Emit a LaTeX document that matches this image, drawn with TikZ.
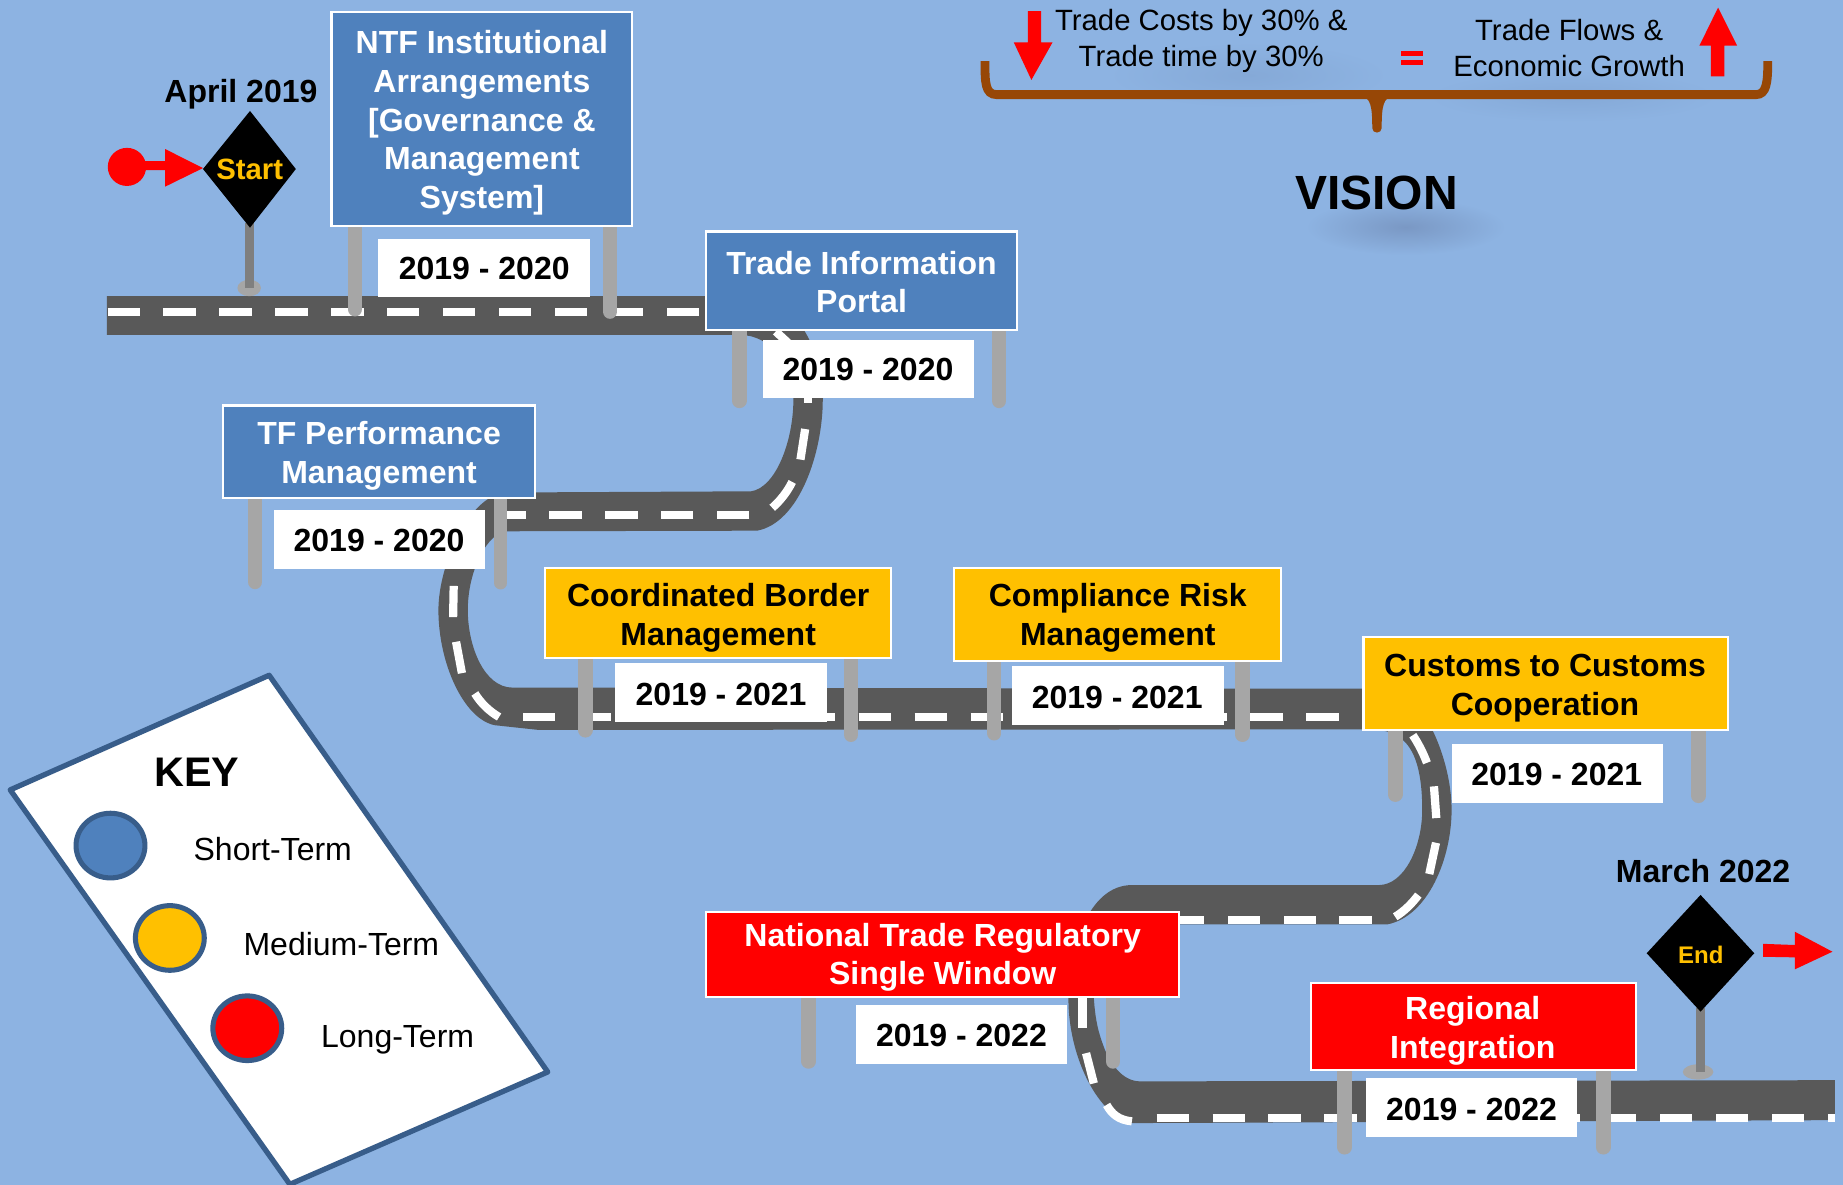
\documentclass[tikz,border=0pt]{standalone}
\usepackage{fontspec}
\setmainfont{Liberation Sans}
\def\uu{0.8816pt}
\definecolor{bgc}{HTML}{8DB3E2}
\definecolor{blueb}{HTML}{4F81BD}
\definecolor{yellowb}{HTML}{FFC000}
\definecolor{roadc}{HTML}{595959}
\definecolor{postc}{HTML}{A6A6A6}
\definecolor{stemc}{HTML}{7F7F7F}
\definecolor{bracec}{HTML}{974706}
\definecolor{keyline}{HTML}{385D8A}
\definecolor{softa}{HTML}{85A9D7}
\definecolor{softb}{HTML}{7A98C4}
\tikzset{
  signbox/.style 2 args={draw=white,line width=1.8*\uu,inner sep=0pt,
     minimum width=#1*\uu,minimum height=#2*\uu},
  bluebox/.style 2 args={signbox={#1}{#2},fill=blueb},
  yellowbox/.style 2 args={signbox={#1}{#2},fill=yellowb},
  redbox/.style 2 args={signbox={#1}{#2},fill=red},
  signtext/.style={inner sep=0pt,align=center,font=\bfseries\fontsize{24}{29}\selectfont},
  datebox/.style={fill=white,inner sep=0pt,minimum width=180*\uu,minimum height=50*\uu},
  datetext/.style={inner sep=0pt,text=black,font=\bfseries\fontsize{24}{29}\selectfont},
  post/.style={draw=postc,line width=12.5*\uu,line cap=round},
  roadmark/.style={draw=white,line width=7*\uu},
  roaddash/.style={roadmark,dash pattern=on 27.4*\uu off 20.2*\uu},
  plaintext/.style={inner sep=0pt,font=\fontsize{22}{27}\selectfont,text=black},
  keytext/.style={inner sep=0pt,anchor=west,font=\fontsize{24}{28}\selectfont,text=black},
  boldtext/.style={inner sep=0pt,font=\bfseries\fontsize{24}{29}\selectfont,text=black},
  keydot/.style={draw=keyline,line width=4.3*\uu},
}
\begin{document}
\begin{tikzpicture}[x=0.8816pt,y=-0.8816pt]
\useasboundingbox (0,0) rectangle (1568,1008);
\fill[bgc] (0,0) rectangle (1568,1008);
% soft shadows
\shade[inner color=softa,outer color=bgc] (1062,64) ellipse [x radius=120,y radius=28];
\shade[inner color=softa,outer color=bgc] (1338,82) ellipse [x radius=125,y radius=22];
\shade[inner color=softb,outer color=bgc] (1196,193) ellipse [x radius=85,y radius=24];
% road surface
\fill[roadc] (91,252) -- (640,252) .. controls (680,256) and (700,300) .. (700,340)
  .. controls (700,385) and (680,445) .. (644,451.5) -- (432,452)
  .. controls (415,452) and (398,485) .. (398,519)
  .. controls (398,550) and (412,585) .. (436,585) -- (1190,586)
  .. controls (1215,600) and (1235,650) .. (1235,689)
  .. controls (1235,730) and (1215,780) .. (1180,786.5) -- (975,786.5)
  -- (930.6,849) .. controls (932,870) and (935,880) .. (940,893)
  .. controls (945,905) and (955,920) .. (970,920) -- (1561,919) -- (1561,953) -- (963,955.5)
  .. controls (935,950) and (909,900) .. (909,850)
  .. controls (909,810) and (925,753) .. (963,753) -- (1173,753)
  .. controls (1195,753) and (1210,720) .. (1210,689)
  .. controls (1210,660) and (1205,640) .. (1194,630)
  .. controls (1185,621) and (1175,620.5) .. (1150,620.5) -- (458,621) -- (421,617)
  .. controls (395,612) and (373,565) .. (373,519)
  .. controls (373,480) and (400,419) .. (432,419) -- (639,418)
  .. controls (660,415) and (675,375) .. (675,340)
  .. controls (675,310) and (655,285) .. (630,285) -- (91,285) -- cycle;
% road markings
\draw[roaddash] (91.5,265.7) -- (600,265.7);
\draw[roadmark] (660,282) -- (674,295);
\draw[roadmark] (687.5,330) -- (687.5,343);
\draw[roadmark] (685,365) -- (681,391);
\draw[roadmark] (674,410) .. controls (670,418) and (664,426) .. (657,432);
\draw[roaddash] (637.6,438) -- (421,438);
\draw[roadmark] (386,498.5) -- (385.5,525);
\draw[roadmark] (388,546) -- (393,572.7);
\draw[roadmark] (404,590) .. controls (409,598) and (416,605) .. (424.6,610);
\draw[roaddash] (445,609.7) -- (1139,609.7);
\draw[roadmark] (1202,625.5) .. controls (1207,633) and (1211,641) .. (1214,649);
\draw[roadmark] (1220,669) -- (1222,696);
\draw[roadmark] (1221.7,717) -- (1216,743.6);
\draw[roadmark] (1206.7,761.5) .. controls (1201,769) and (1195,775) .. (1187,780);
\draw[roaddash] (1167,782.7) -- (1003,782.7);
\draw[roadmark] (921,849) -- (921,874.7);
\draw[roadmark] (924,896) -- (930.6,921.7);
\draw[roadmark] (941.5,940) .. controls (946,948) and (952,953) .. (963,954);
\draw[roaddash] (984,951) -- (1561,951);
% posts
\draw[post] (302,192) -- (302,263);
\draw[post] (519,192) -- (519,265);
\draw[post] (629,281) -- (629,341);
\draw[post] (850,281) -- (850,341);
\draw[post] (217,424) -- (217,495);
\draw[post,line width=11*\uu] (426,424) -- (426,496);
\draw[post,line width=13*\uu] (498,560) -- (498,621);
\draw[post] (724,560) -- (724,625);
\draw[post,line width=12*\uu] (846,562) -- (846,624);
\draw[post] (1057,562) -- (1057,625);
\draw[post] (1187,621) -- (1187,676);
\draw[post] (1445,621) -- (1445,677);
\draw[post] (688,848) -- (688,903);
\draw[post] (947,848) -- (947,903);
\draw[post] (1144,910) -- (1144,976);
\draw[post] (1364,910) -- (1364,976);
% signs
\node[bluebox={256}{182}] (ntf) at (410,101) {};
\node[signtext,text=white] (ntft) at (410,104.5) {NTF Institutional\\Arrangements\\{}[Governance \&\\Management\\System]};
\node[bluebox={264}{84}] (tip) at (733,239) {};
\node[signtext,text=white] (tipt) at (733,240) {Trade Information\\Portal};
\node[bluebox={265}{79}] (tfp) at (322.5,384.5) {};
\node[signtext,text=white] (tfpt) at (322.5,388) {TF Performance\\Management};
\node[yellowbox={294}{77}] (cbm) at (611,521.5) {};
\node[signtext,text=black] (cbmt) at (611,525.5) {Coordinated Border\\Management};
\node[yellowbox={278}{79}] (crm) at (951,522.5) {};
\node[signtext,text=black] (crmt) at (951,525.5) {Compliance Risk\\Management};
\node[yellowbox={310}{79}] (ccc) at (1315,581.5) {};
\node[signtext,text=black] (ccct) at (1314.5,585.5) {Customs to Customs\\Cooperation};
\node[redbox={402}{72}] (ntr) at (802,812) {};
\node[signtext,text=white] (ntrt) at (802,814.5) {National Trade Regulatory\\Single Window};
\node[redbox={277}{74}] (rin) at (1253.5,873) {};
\node[signtext,text=white] (rint) at (1253,877) {Regional\\Integration};
% date plates
\node[datebox] (d1) at (412,228) {};
\node[datetext] (d1t) at (412,228.5) {2019 - 2020};
\node[datebox] (d2) at (739,314) {};
\node[datetext] (d2t) at (738.5,314.5) {2019 - 2020};
\node[datebox] (d3) at (323,459) {};
\node[datetext] (d3t) at (322.5,460) {2019 - 2020};
\node[datebox] (d4) at (613.5,589) {};
\node[datetext] (d4t) at (613.5,590.5) {2019 - 2021};
\node[datebox] (d5) at (951,592) {};
\node[datetext] (d5t) at (950.5,593) {2019 - 2021};
\node[datebox] (d6) at (1325,658) {};
\node[datetext] (d6t) at (1324.5,659) {2019 - 2021};
\node[datebox] (d7) at (818,880) {};
\node[datetext] (d7t) at (818,881) {2019 - 2022};
\node[datebox] (d8) at (1252,942) {};
\node[datetext] (d8t) at (1252,944) {2019 - 2022};
% start marker
\fill[postc] (212,245) ellipse [x radius=10,y radius=7];
\fill[stemc] (208.5,190) rectangle (215.7,245);
\fill[black] (212.7,94.4) -- (251.7,143.8) -- (212.7,193.7) -- (172.7,143.8) -- cycle;
\node[inner sep=0pt,text=yellowb,font=\bfseries\fontsize{22}{26}\selectfont] (startt) at (212.5,144.5) {Start};
\node[boldtext] (apr) at (205,80.5) {April 2019};
\fill[red] (108,142) ellipse [x radius=16.3,y radius=16.2];
\fill[red] (120,137) -- (140.5,137) -- (140.5,126.8) -- (172.7,143) -- (140.5,158.8) -- (140.5,144.7) -- (120,144.7) -- cycle;
% end marker
\fill[postc] (1444.7,912) ellipse [x radius=13,y radius=6.5];
\fill[stemc] (1443,858) rectangle (1451,911.7);
\fill[black] (1446.8,761.4) -- (1492.5,811) -- (1446.8,860.7) -- (1401,811) -- cycle;
\node[inner sep=0pt,text=yellowb,font=\bfseries\fontsize{18}{22}\selectfont] (endt) at (1447,812.5) {End};
\node[boldtext] (mar) at (1449,741) {March 2022};
\fill[red] (1500,803) -- (1527,804) -- (1527,792.7) -- (1559,809.7) -- (1527,824.7) -- (1527,814.5) -- (1500,814) -- cycle;
% vision
\node[plaintext] (v1) at (1022,19.5) {Trade Costs by 30\% \&};
\node[plaintext] (v2) at (1022,50) {Trade time by 30\%};
\node[plaintext] (v3) at (1335,25.5) {Trade Flows \&};
\node[plaintext] (v4) at (1335,56) {Economic Growth};
\fill[red] (874.6,9.4) -- (885.7,9.4) -- (885.7,36) -- (895.5,36) -- (877.5,68) -- (862.5,36) -- (874.6,36) -- cycle;
\fill[red] (1461.7,6.5) -- (1478,38.9) -- (1467,38.9) -- (1467,65) -- (1455.5,65) -- (1455.5,38.9) -- (1445.8,38.9) -- cycle;
\fill[red] (1192,43.4) rectangle (1210.4,47.4);
\fill[red] (1192,51) rectangle (1210.4,55.3);
\draw[bracec,line width=7.5*\uu] (838,52) .. controls (838,70) and (838,80.5) .. (848,80.5) -- (1494,80.5) .. controls (1503,80.5) and (1504,70) .. (1504,52);
\fill[bracec] (1158,82) .. controls (1166,83) and (1167.5,90) .. (1167.5,109) .. controls (1167.5,114) and (1175.5,114) .. (1175.5,109) .. controls (1175.5,90) and (1177,83) .. (1185,82) -- cycle;
\node[inner sep=0pt,text=black,font=\bfseries\fontsize{36}{42}\selectfont] (vis) at (1171,164) {VISION};
% key
\filldraw[fill=white,draw=keyline,line width=4.5*\uu,line join=round] (229,574.5) -- (8.7,672) -- (246.6,1007.6) -- (466,912) -- cycle;
\node[inner sep=0pt,text=black,font=\bfseries\fontsize{31}{36}\selectfont] (key) at (167.4,657) {KEY};
\filldraw[keydot,fill=blueb] (94,719.4) ellipse [x radius=29.3,y radius=27.5];
\filldraw[keydot,fill=yellowb] (144.5,798) ellipse [x radius=29.3,y radius=27.5];
\filldraw[keydot,fill=red] (210.4,874.8) ellipse [x radius=29.3,y radius=27.5];
\node[keytext] (k1) at (164.5,722.5) {Short-Term};
\node[keytext] (k2) at (207,803) {Medium-Term};
\node[keytext] (k3) at (273,885) {Long-Term};
\end{tikzpicture}
\end{document}
